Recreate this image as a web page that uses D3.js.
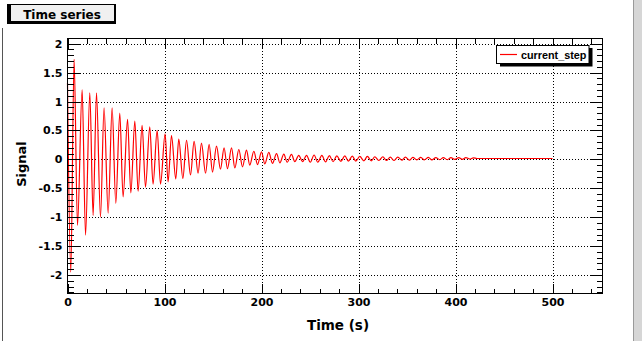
<!DOCTYPE html>
<html><head><meta charset="utf-8">
<script src="https://cdn.jsdelivr.net/npm/d3@7"></script>
<style>html,body{margin:0;padding:0;background:#fff;}svg{display:block;}</style>
</head><body>
<script>
// ---- data ----
const chartTitle = "Time series";
const xTitle = "Time (s)";
const yTitle = "Signal";
const seriesName = "current_step";
const xTicks = [0, 100, 200, 300, 400, 500];
const yTicks = [-2, -1.5, -1, -0.5, 0, 0.5, 1, 1.5, 2];
const yTickLabels = ["-2", "-1.5", "-1", "-0.5", "0", "0.5", "1", "1.5", "2"];
const xDomain = [0, 551.5];
const yDomain = [-2.32, 2.09];
// times (s) of successive turning points of the signal
const times = [0, 3.4, 6.8, 10.3, 15.1, 18.6, 23.0, 26.4, 29.9, 34.0, 37.7, 41.9, 46.0, 49.8, 53.9, 57.3,
  61.9, 65.3, 69.4, 72.8, 76.9, 80.4, 84.8, 88.2, 92.4, 95.9, 100.6, 103.7, 107.2, 111.6, 114.7, 118.9,
  122.7, 126.8, 130.5, 134.6, 138.1, 142.3, 146.0, 149.5, 153.6, 157.7, 161.4, 164.9, 169.1, 172.5,
  176.6, 180.4, 184.5, 187.9, 192.1, 195.9, 200.0, 203.4, 207.5, 211.3, 215.5, 218.9, 223.0, 226.4,
  230.9, 234.3, 238.4, 242.3, 246.4, 250.3, 254.2, 258.0, 262.2, 266.0, 269.9, 273.8, 277.6, 281.8,
  285.9, 289.5, 293.6, 297.2, 301.3, 305.5, 309.1, 313.2, 316.8, 320.9, 325.1, 328.7, 332.8, 336.4,
  340.5, 344.7, 348.3, 352.4, 356.0, 360.1, 364.2, 367.8, 372.0, 375.6, 379.7, 383.8, 387.4, 391.5,
  395.2, 399.3, 403.4, 407.0, 410.6, 414.8, 418.4, 422.0, 500];
const signal = [1.32, -1.95, 1.73, -1.14, 1.20, -1.31, 1.15, -0.97, 1.15, -1.00, 0.89, -0.93, 0.89, -0.76, 0.80, -0.65,
  0.69, -0.58, 0.66, -0.55, 0.59, -0.48, 0.56, -0.43, 0.50, -0.43, 0.44, -0.39, 0.41, -0.34, 0.35, -0.33,
  0.33, -0.27, 0.31, -0.24, 0.28, -0.24, 0.26, -0.22, 0.23, -0.17, 0.20, -0.16, 0.20, -0.15,
  0.17, -0.13, 0.16, -0.10, 0.14, -0.09, 0.13, -0.08, 0.12, -0.07, 0.10, -0.06, 0.09, -0.05,
  0.085, -0.04, 0.07, -0.04, 0.07, -0.05, 0.075, -0.05, 0.07, -0.045, 0.065, -0.04, 0.06, -0.035,
  0.06, -0.03, 0.055, -0.03, 0.05, -0.025, 0.05, -0.025, 0.045, -0.02, 0.045, -0.02, 0.04, -0.02,
  0.04, -0.015, 0.04, -0.015, 0.035, -0.01, 0.035, -0.01, 0.035, -0.01, 0.03, -0.005, 0.03, -0.005,
  0.03, 0.0, 0.03, 0.0, 0.03, 0.005, 0.025, 0.015, 0.015];

// ---- layout ----
const W = 642, H = 341;
const L = 67.5, R = 602.5, T = 38.5, B = 293.5;
const FONT = "'DejaVu Sans', sans-serif";

const svg = d3.select("body").append("svg").attr("width", W).attr("height", H);
svg.append("rect").attr("width", W).attr("height", H).attr("fill", "#fff");

// window borders
svg.append("rect").attr("x", 633).attr("y", 0).attr("width", 9).attr("height", H).attr("fill", "#d6d6d6");
svg.append("line").attr("x1", 633.5).attr("x2", 633.5).attr("y1", 0).attr("y2", H).attr("stroke", "#9a9a9a");
svg.append("line").attr("x1", 2.5).attr("x2", 2.5).attr("y1", 28).attr("y2", H).attr("stroke", "#555");

const x = d3.scaleLinear().domain(xDomain).range([L, R]);
const y = d3.scaleLinear().domain(yDomain).range([B, T]);

// grid
const g = svg.append("g").attr("shape-rendering", "crispEdges");
g.selectAll(".gx").data(xTicks.filter(d => d > 0)).join("line")
  .attr("x1", d => Math.round(x(d)) + 0.5).attr("x2", d => Math.round(x(d)) + 0.5)
  .attr("y1", T + 0.5).attr("y2", B).attr("stroke", "#000").attr("stroke-dasharray", "1,2");
g.selectAll(".gy").data(yTicks).join("line")
  .attr("y1", d => Math.round(y(d)) + 0.5).attr("y2", d => Math.round(y(d)) + 0.5)
  .attr("x1", L + 0.5).attr("x2", R).attr("stroke", "#000").attr("stroke-dasharray", "1,2");

// data line
const line = d3.line().x((d, i) => x(times[i])).y(d => y(d)).curve(d3.curveMonotoneX);
svg.append("path").datum(signal).attr("d", line).attr("fill", "none")
  .attr("stroke", "#ff0000").attr("stroke-width", 1.2);

// axes with ROOT-like ticks
const tk = svg.append("g").attr("shape-rendering", "crispEdges").attr("stroke", "#000");
function tickLines(vals, len, side) {
  vals.forEach(v => {
    if (side === "bottom" || side === "top") {
      const px = Math.round(x(v)) + 0.5;
      if (side === "bottom") tk.append("line").attr("x1", px).attr("x2", px).attr("y1", B).attr("y2", B - len);
      else tk.append("line").attr("x1", px).attr("x2", px).attr("y1", T).attr("y2", T + len);
    } else {
      const py = Math.round(y(v)) + 0.5;
      if (side === "left") tk.append("line").attr("y1", py).attr("y2", py).attr("x1", L).attr("x2", L + len);
      else tk.append("line").attr("y1", py).attr("y2", py).attr("x1", R).attr("x2", R - len);
    }
  });
}
const xMinor = d3.range(0, 551, 20).filter(v => v % 100 !== 0);
const yMinor = d3.range(-23, 21).map(v => v / 10).filter(v => Math.abs(v * 2 - Math.round(v * 2)) > 1e-6);
tickLines(xTicks, 10, "bottom"); tickLines(xMinor, 5, "bottom");
tickLines(xTicks, 10, "top"); tickLines(xMinor, 5, "top");
tickLines(yTicks, 12, "left"); tickLines(yMinor, 6, "left");
tickLines(yTicks, 12, "right"); tickLines(yMinor, 6, "right");

// frame
svg.append("rect").attr("x", L).attr("y", T).attr("width", R - L).attr("height", B - T)
  .attr("fill", "none").attr("stroke", "#000").attr("shape-rendering", "crispEdges");

// tick labels via d3 axes (lines hidden)
const xAxis = svg.append("g").attr("transform", `translate(0,${B})`)
  .call(d3.axisBottom(x).tickValues(xTicks).tickSize(0).tickPadding(5).tickFormat(d3.format("d")));
const yAxis = svg.append("g").attr("transform", `translate(${L},0)`)
  .call(d3.axisLeft(y).tickValues(yTicks).tickSize(0).tickPadding(5).tickFormat((d, i) => yTickLabels[i]));
[xAxis, yAxis].forEach(a => {
  a.select(".domain").remove();
  a.selectAll("text").attr("font-family", FONT).attr("font-weight", "bold").attr("font-size", 11).attr("fill", "#000");
});

// axis titles
svg.append("text").attr("x", 338).attr("y", 330).attr("text-anchor", "middle")
  .attr("font-family", FONT).attr("font-weight", "bold").attr("font-size", 13.5).text(xTitle);
svg.append("text").attr("transform", "translate(26,164) rotate(-90)").attr("text-anchor", "middle")
  .attr("font-family", FONT).attr("font-weight", "bold").attr("font-size", 13).text(yTitle);

// title box
svg.append("rect").attr("x", 7.5).attr("y", 4.5).attr("width", 108).attr("height", 19)
  .attr("fill", "#f0f0f0").attr("stroke", "#000");
svg.append("rect").attr("x", 7).attr("y", 4).attr("width", 4).attr("height", 20).attr("fill", "#000");
svg.append("rect").attr("x", 7).attr("y", 21).attr("width", 109).attr("height", 3).attr("fill", "#000");
svg.append("rect").attr("x", 114).attr("y", 4).attr("width", 2).attr("height", 20).attr("fill", "#000");
svg.append("text").attr("x", 62).attr("y", 19).attr("text-anchor", "middle")
  .attr("font-family", FONT).attr("font-weight", "bold").attr("font-size", 12).text(chartTitle);

// legend
svg.append("rect").attr("x", 500).attr("y", 48).attr("width", 92.5).attr("height", 18.5).attr("fill", "#000");
svg.append("rect").attr("x", 496.5).attr("y", 45.5).attr("width", 92.5).attr("height", 18)
  .attr("fill", "#fff").attr("stroke", "#000");
svg.append("line").attr("x1", 500).attr("x2", 517).attr("y1", 54.5).attr("y2", 54.5)
  .attr("stroke", "#ff0000").attr("stroke-width", 1.2);
svg.append("text").attr("x", 521).attr("y", 58.5)
  .attr("font-family", "'Liberation Sans', Arial, sans-serif").attr("font-weight", "bold").attr("font-size", 10.8).text(seriesName);
</script>
</body></html>
